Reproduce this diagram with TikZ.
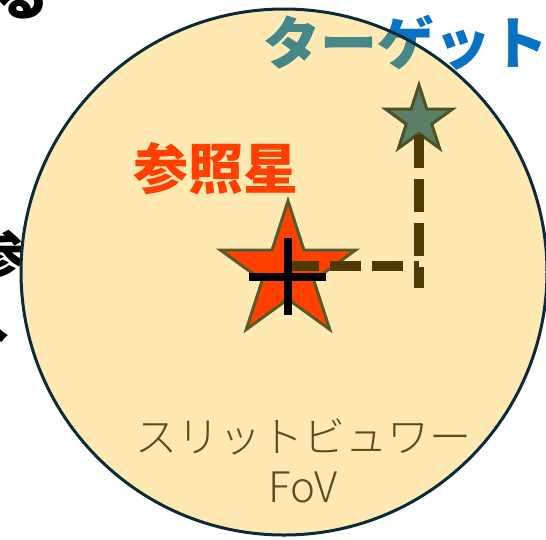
\documentclass[tikz,border=0pt]{standalone}
\usepackage{fontspec}
\setmainfont{Noto Sans CJK JP}
\IfFontExistsTF{Noto Sans CJK JP Light}
  {\newfontfamily\fovfont{Noto Sans CJK JP Light}}
  {\newfontfamily\fovfont{Noto Sans CJK JP}}
\usetikzlibrary{shapes.geometric}
\definecolor{fovfill}{HTML}{FFE9B3}
\definecolor{fovline}{HTML}{0B2A3C}
\definecolor{tgtblue}{HTML}{0A72C2}
\definecolor{tgtteal}{HTML}{468787}
\definecolor{refred}{HTML}{FF4000}
\definecolor{refline}{HTML}{5A5A28}
\definecolor{tgtgreen}{HTML}{5B7F66}
\definecolor{tgtline}{HTML}{4F5228}
\definecolor{dashbrown}{HTML}{4D3A05}
\definecolor{fovtext}{HTML}{5E4B1C}
\begin{document}
\begin{tikzpicture}[x=1pt,y=-1pt,
  starshape/.style={star, star points=5, star point ratio=2.618, inner sep=0pt, line width=3pt, line join=miter},
  dashline/.style={draw=dashbrown, line width=10pt},
  crossline/.style={draw=black, line width=8pt},
  cut/.style={font=\fontsize{55}{60}\selectfont\bfseries, text=black, inner sep=0pt},
  tgtfont/.style={font=\fontsize{57}{60}\selectfont\bfseries, inner sep=0pt}
]
\useasboundingbox (0,0) rectangle (546,539);
% cut-off text fragments behind the circle
\node[cut] (ru) at (22,-4) {る};
\node[cut] (san) at (-2,255) {参};
\node[cut] (iri) at (-18,318) {入};
% field of view
\node[circle, fill=fovfill, minimum size=526pt, inner sep=0pt] (fov) at (284,272) {};
% target label
\node[tgtfont, text=tgtblue] (tgtlabel) at (406,43) {ターゲット};
\begin{scope}
  \clip (fov.center) circle[radius=263pt];
  \node[tgtfont, text=tgtteal] (tgtlabelin) at (406,43) {ターゲット};
\end{scope}
\draw[fovline, line width=3pt] (fov.center) circle[radius=263pt];
% stars
\node[starshape, minimum size=142pt, fill=refred, draw=refline] (ref) at (288,272) {};
\node[starshape, minimum size=70pt, fill=tgtgreen, draw=tgtline] (tgt) at (419,120) {};
% offset path
\coordinate (hstart) at (288,266);
\coordinate (corner) at (419,266);
\coordinate (vtop) at (419,135);
\coordinate (vbot) at (419,288);
\draw[dashline, dash pattern=on 31pt off 11pt] (hstart) -- (corner);
\draw[dashline, dash pattern=on 33pt off 11pt] (vtop) -- (vbot);
% crosshair
\coordinate (cross) at (288,277);
\draw[crossline] (cross) ++(0,-39) -- ++(0,77);
\draw[crossline] (cross) ++(-39,0) -- ++(77,0);
% labels
\node[font=\fontsize{55}{60}\selectfont\bfseries, text=refred, inner sep=0pt] (reflabel) at (216,169) {参照星};
\node[font=\fontsize{42}{50}\selectfont\fovfont, text=fovtext, align=center, inner sep=0pt] (fovlabel) at (303,461) {スリットビュワー\\FoV};
\end{tikzpicture}
\end{document}
